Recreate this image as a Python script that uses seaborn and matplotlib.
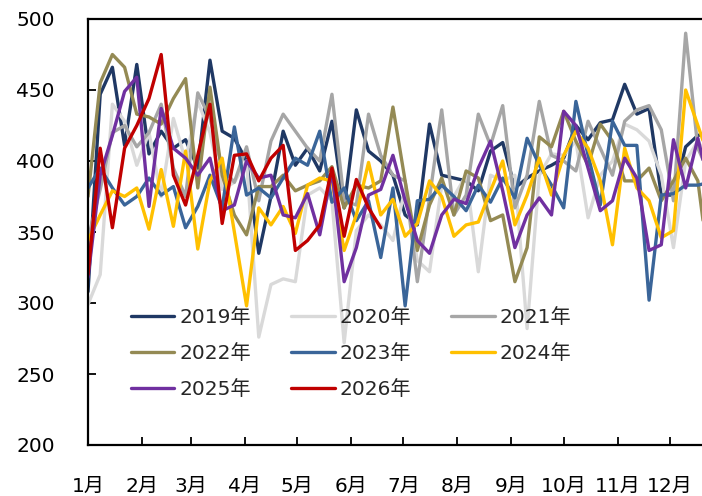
import numpy as np
import pandas as pd
import matplotlib
matplotlib.use("Agg")
import matplotlib.pyplot as plt
import seaborn as sns

years = ["2019年", "2020年", "2021年", "2022年", "2023年", "2024年", "2025年", "2026年"]
colors = ["#1F3864", "#D9D9D9", "#A6A6A6", "#948A54", "#3A6599", "#FFC000", "#7030A0", "#C00000"]

y2019 = [308, 447, 466, 411, 468, 405, 421, 409, 415, 395, 471, 421, 416, 400, 335, 375, 421, 397, 409, 393,
         428, 367, 436, 407, 400, 390, 362, 355, 426, 390, 388, 386, 379, 407, 413, 381, 388, 393, 397, 402,
         425, 415, 427, 429, 454, 433, 437, 376, 376, 410, 418, 420]
y2020 = [299, 320, 440, 428, 397, 420, 375, 430, 400, 442, 420, 380, 385, 400, 276, 313, 317, 315, 376, 381,
         372, 272, 351, 362, 355, 344, 380, 330, 322, 383, 375, 390, 322, 390, 386, 390, 282, 390, 405, 404,
         414, 360, 390, 400, 426, 422, 414, 390, 339, 400, 414, 400]
y2021 = [345, 380, 420, 425, 410, 420, 440, 395, 375, 448, 430, 395, 385, 410, 372, 414, 433, 421, 409, 400,
         447, 372, 369, 433, 404, 390, 386, 315, 374, 436, 362, 376, 433, 411, 439, 367, 390, 442, 404, 400,
         393, 428, 409, 390, 428, 436, 439, 422, 372, 490, 409, 390]
y2022 = [375, 455, 475, 466, 433, 431, 426, 444, 458, 381, 452, 390, 362, 348, 382, 382, 390, 379, 383, 386,
         396, 367, 383, 381, 386, 438, 386, 337, 369, 388, 362, 393, 388, 358, 362, 315, 339, 417, 410, 435,
         414, 397, 426, 414, 386, 386, 395, 372, 386, 402, 386, 320]
y2023 = [381, 395, 381, 369, 375, 388, 376, 382, 353, 368, 390, 367, 424, 376, 381, 374, 388, 402, 397, 421,
         371, 381, 358, 372, 332, 381, 298, 372, 373, 383, 375, 365, 383, 371, 388, 374, 416, 397, 383, 367,
         442, 404, 369, 428, 411, 411, 302, 376, 377, 383, 383, 385]
y2024 = [344, 362, 379, 375, 381, 352, 394, 354, 407, 338, 386, 402, 350, 298, 367, 355, 368, 349, 383, 388,
         386, 337, 362, 399, 362, 373, 347, 356, 386, 375, 347, 355, 357, 379, 400, 355, 376, 402, 376, 404,
         421, 409, 386, 341, 409, 381, 372, 346, 351, 450, 425, 400]
y2025 = [318, 390, 418, 449, 459, 368, 437, 409, 402, 390, 402, 365, 369, 400, 388, 390, 362, 360, 377, 348,
         393, 315, 339, 376, 380, 404, 372, 344, 335, 362, 373, 370, 395, 414, 379, 339, 362, 374, 362, 435,
         425, 395, 365, 372, 402, 388, 337, 341, 415, 381, 416, 380]
y2026 = [320, 409, 353, 409, 425, 444, 475, 390, 369, 404, 440, 356, 404, 405, 386, 402, 411, 337, 344, 355,
         395, 347, 387, 367, 353]

month_labels = ["1月", "2月", "3月", "4月", "5月", "6月", "7月", "8月", "9月", "10月", "11月", "12月"]
month_days = [0, 31, 59, 90, 120, 151, 181, 212, 243, 273, 304, 334]

series = [y2019, y2020, y2021, y2022, y2023, y2024, y2025, y2026]
rows = []
for yr, vals in zip(years, series):
    for i, v in enumerate(vals):
        rows.append({"day": 7 * i, "value": v, "year": yr})
df = pd.DataFrame(rows)

sns.set_theme(style="white")
plt.rcParams["font.family"] = ["DejaVu Sans", "Noto Sans CJK SC"]

FS = 14.5
W, H = 702, 496
fig = plt.figure(figsize=(W / 100, H / 100), dpi=100)
ax = fig.add_axes([88 / W, (H - 445) / H, 636 / W, 426 / H])

sns.lineplot(data=df, x="day", y="value", hue="year", hue_order=years,
             palette=dict(zip(years, colors)), linewidth=2.4, estimator=None,
             sort=False, legend=False, ax=ax)

ax.set_xlim(0, 365)
ax.set_ylim(200, 500)
ax.set_yticks([200, 250, 300, 350, 400, 450, 500])
ax.set_xticks(month_days)
ax.set_xticklabels(month_labels)
ax.set_xlabel("")
ax.set_ylabel("")
ax.yaxis.set_tick_params(direction="in", length=6, width=1.3, pad=24, labelsize=FS,
                         labelcolor="black", color="black", left=True)
ax.xaxis.set_tick_params(direction="in", length=6, width=1.3, pad=23, labelsize=FS,
                         labelcolor="black", color="black", bottom=True)
for s in ax.spines.values():
    s.set_visible(True)
    s.set_color("black")
    s.set_linewidth(1.6)

lines = ax.get_lines()[:len(years)]
order = [0, 3, 6, 1, 4, 7, 2, 5]
ax.legend([lines[k] for k in order], [years[k] for k in order], ncol=3, frameon=False,
          fontsize=FS, loc="upper left", bbox_to_anchor=(131 / W, 1 - 308 / H),
          bbox_transform=fig.transFigure, handlelength=2.15, handletextpad=0.25,
          columnspacing=2.0, labelspacing=0.85, borderpad=0, borderaxespad=0)

fig.savefig("out.png", dpi=100)
